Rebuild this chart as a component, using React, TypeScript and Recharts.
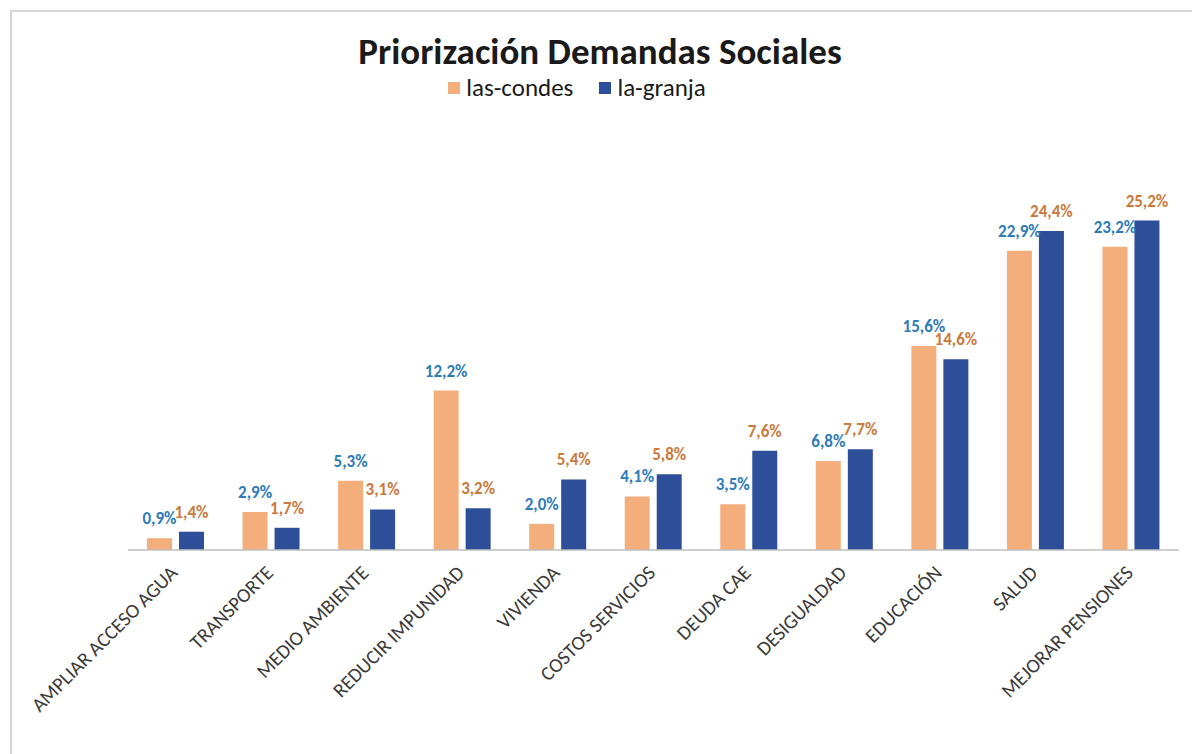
import { BarChart, Bar, XAxis, YAxis, LabelList } from 'recharts'

const categories = [
  'AMPLIAR ACCESO AGUA',
  'TRANSPORTE',
  'MEDIO AMBIENTE',
  'REDUCIR IMPUNIDAD',
  'VIVIENDA',
  'COSTOS SERVICIOS',
  'DEUDA  CAE',
  'DESIGUALDAD',
  'EDUCACIÓN',
  'SALUD',
  'MEJORAR PENSIONES',
]
const lasCondes = [0.9, 2.9, 5.3, 12.2, 2.0, 4.1, 3.5, 6.8, 15.6, 22.9, 23.2]
const laGranja = [1.4, 1.7, 3.1, 3.2, 5.4, 5.8, 7.6, 7.7, 14.6, 24.4, 25.2]
const seriesNames = ['las-condes', 'la-granja']

const FONT = 'Carlito, Calibri, Lato, "Open Sans", sans-serif'
const ORANGE = '#F4AE7C'
const BLUE = '#2D4F9A'

const chartData = categories.map((name, i) => ({
  name,
  lasCondes: lasCondes[i],
  laGranja: laGranja[i],
}))

const fmt = (v: any) => `${Number(v).toFixed(1).replace('.', ',')}%`

function AngledTick({ x, y, payload }: any) {
  return (
    <g transform={`translate(${x + 3},${y + 16})`}>
      <text
        x={0}
        y={0}
        textAnchor="end"
        transform="rotate(-45)"
        fill="#3a3a3a"
        fontSize={20}
        fontFamily={FONT}
      >
        {payload.value}
      </text>
    </g>
  )
}

export default function App() {
  return (
    <div style={{ position: 'absolute', left: 0, top: 0, width: 1192, height: 754, background: '#fff', overflow: 'hidden' }}>
      <div
        style={{
          position: 'absolute', left: 10, top: 10, width: 1200, height: 760,
          borderLeft: '2px solid #d6d6d6', borderTop: '2px solid #d6d6d6',
        }}
      />
      <div
        style={{
          position: 'absolute', left: 0, width: 1200, top: 30, textAlign: 'center',
          fontFamily: FONT, fontWeight: 700, fontSize: 37, color: '#1a1a1a', lineHeight: '44px',
        }}
      >
        Priorización Demandas Sociales
      </div>
      <div
        style={{
          position: 'absolute', left: 0, width: 1154, top: 72, display: 'flex', justifyContent: 'center',
          gap: 26, fontFamily: FONT, fontSize: 25, color: '#1a1a1a', lineHeight: '32px',
        }}
      >
        {seriesNames.map((s, i) => (
          <div key={s} style={{ display: 'flex', alignItems: 'center', gap: 6 }}>
            <span style={{ width: 12, height: 12, background: i === 0 ? ORANGE : BLUE, display: 'inline-block' }} />
            <span>{s}</span>
          </div>
        ))}
      </div>
      <div style={{ position: 'absolute', left: 0, top: 0 }}>
        <BarChart
          width={1192}
          height={754}
          data={chartData}
          margin={{ top: 184, right: 13, bottom: 4, left: 128 }}
          barSize={25}
          barGap={7}
        >
          <XAxis
            dataKey="name"
            interval={0}
            height={200}
            tickLine={false}
            axisLine={{ stroke: '#bfbfbf', strokeWidth: 1.5 }}
            tick={<AngledTick />}
          />
          <YAxis hide domain={[0, 28]} />
          <Bar dataKey="lasCondes" name={seriesNames[0]} fill={ORANGE} isAnimationActive={false}>
            <LabelList
              dataKey="lasCondes"
              position="top"
              offset={14}
              formatter={fmt}
              fill="#2E7BB8"
              fontSize={17}
              fontWeight={700}
              fontFamily={FONT}
            />
          </Bar>
          <Bar dataKey="laGranja" name={seriesNames[1]} fill={BLUE} isAnimationActive={false}>
            <LabelList
              dataKey="laGranja"
              position="top"
              offset={14}
              formatter={fmt}
              fill="#C97A3C"
              fontSize={17}
              fontWeight={700}
              fontFamily={FONT}
            />
          </Bar>
        </BarChart>
      </div>
    </div>
  )
}
